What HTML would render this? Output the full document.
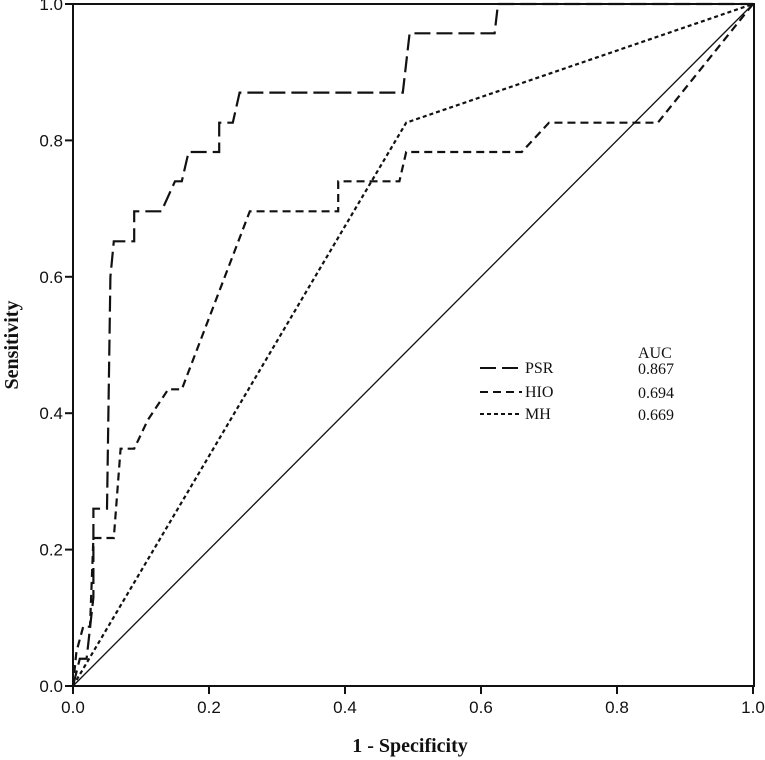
<!DOCTYPE html>
<html><head><meta charset="utf-8"><style>
body{margin:0;background:#fff}
svg{display:block}
</style></head><body>
<svg id="c" width="765" height="760"></svg>
<script>
const xTicks=[0,0.2,0.4,0.6,0.8,1.0];
const yTicks=[0,0.2,0.4,0.6,0.8,1.0];
const psrX=[0,0.01,0.02,0.03,0.03,0.05,0.055,0.06,0.09,0.09,0.13,0.15,0.16,0.17,0.215,0.215,0.235,0.245,0.485,0.495,0.62,0.625,1];
const psrY=[0,0.04,0.04,0.13,0.26,0.26,0.6,0.652,0.652,0.696,0.696,0.74,0.74,0.783,0.783,0.826,0.826,0.87,0.87,0.957,0.957,1,1];
const hioX=[0,0.005,0.015,0.025,0.03,0.06,0.07,0.09,0.11,0.14,0.16,0.26,0.39,0.39,0.48,0.49,0.66,0.70,0.86,1];
const hioY=[0,0.05,0.087,0.087,0.217,0.217,0.348,0.348,0.39,0.435,0.435,0.696,0.696,0.74,0.74,0.783,0.783,0.826,0.826,1];
const mhX=[0,0.49,1];
const mhY=[0,0.826,1];
const legendNames=["PSR","HIO","MH"];
const aucValues=["0.867","0.694","0.669"];
const X0=73,X1=753,Y0=686,Y1=4;
const sx=v=>X0+v*(X1-X0), sy=v=>Y0-v*(Y0-Y1);
const NS="http://www.w3.org/2000/svg", svg=document.getElementById('c');
const SANS='font-family:"Liberation Sans",sans-serif;font-size:17px;fill:#111';
const SERIF='font-family:"Liberation Serif",serif;font-size:16px;fill:#111';
const TITLE='font-family:"Liberation Serif",serif;font-size:20px;font-weight:bold;fill:#111';
function mk(tag,attrs,txt){const e=document.createElementNS(NS,tag);for(const k in attrs)e.setAttribute(k,attrs[k]);if(txt!==undefined)e.textContent=txt;svg.appendChild(e);return e;}
let e=mk('rect',{x:X0,y:Y1,width:X1-X0+1,height:Y0-Y1,fill:'none',stroke:'#111','stroke-width':2});


xTicks.forEach(v=>{
 let l=mk('line',{x1:sx(v),x2:sx(v),y1:Y0,y2:Y0+8,stroke:'#111','stroke-width':2});
 
 
 let t=mk('text',{x:sx(v),y:Y0+27,'text-anchor':'middle',style:SANS},v.toFixed(1));
 
 
});
yTicks.forEach(v=>{
 let l=mk('line',{x1:X0-8,x2:X0,y1:sy(v),y2:sy(v),stroke:'#111','stroke-width':2});
 
 
 let t=mk('text',{x:X0-10,y:sy(v)+6,'text-anchor':'end',style:SANS},v.toFixed(1));
 
 
});
e=mk('line',{x1:sx(0),y1:sy(0),x2:sx(1),y2:sy(1),stroke:'#111','stroke-width':1.3});


function series(xs,ys,dash,name){
 const p=mk('polyline',{points:xs.map((x,i)=>sx(x)+','+sy(ys[i])).join(' '),fill:'none',stroke:'#111','stroke-width':2.2,'stroke-dasharray':dash});
 
 
}
const dashes=["16,6","8,5","4,3"];
series(psrX,psrY,dashes[0],'psr-curve');
series(hioX,hioY,dashes[1],'hio-curve');
series(mhX,mhY,dashes[2],'mh-curve');
e=mk('text',{x:638,y:358,style:SERIF},'AUC');


legendNames.forEach((n,i)=>{
 const y=[368,392,414][i];
 let l=mk('line',{x1:480,x2:522,y1:y,y2:y,stroke:'#111','stroke-width':2,'stroke-dasharray':dashes[i]});
 
 
 let t=mk('text',{x:525,y:y+5,style:SERIF},n);
 
 
 let a=mk('text',{x:638,y:y+6,style:SERIF},aucValues[i]);
 
 
});
e=mk('text',{x:410,y:752,'text-anchor':'middle',style:TITLE},'1 - Specificity');


e=mk('text',{x:18,y:345,'text-anchor':'middle',style:TITLE,transform:'rotate(-90 18 345)'},'Sensitivity');


</script>
</body></html>
